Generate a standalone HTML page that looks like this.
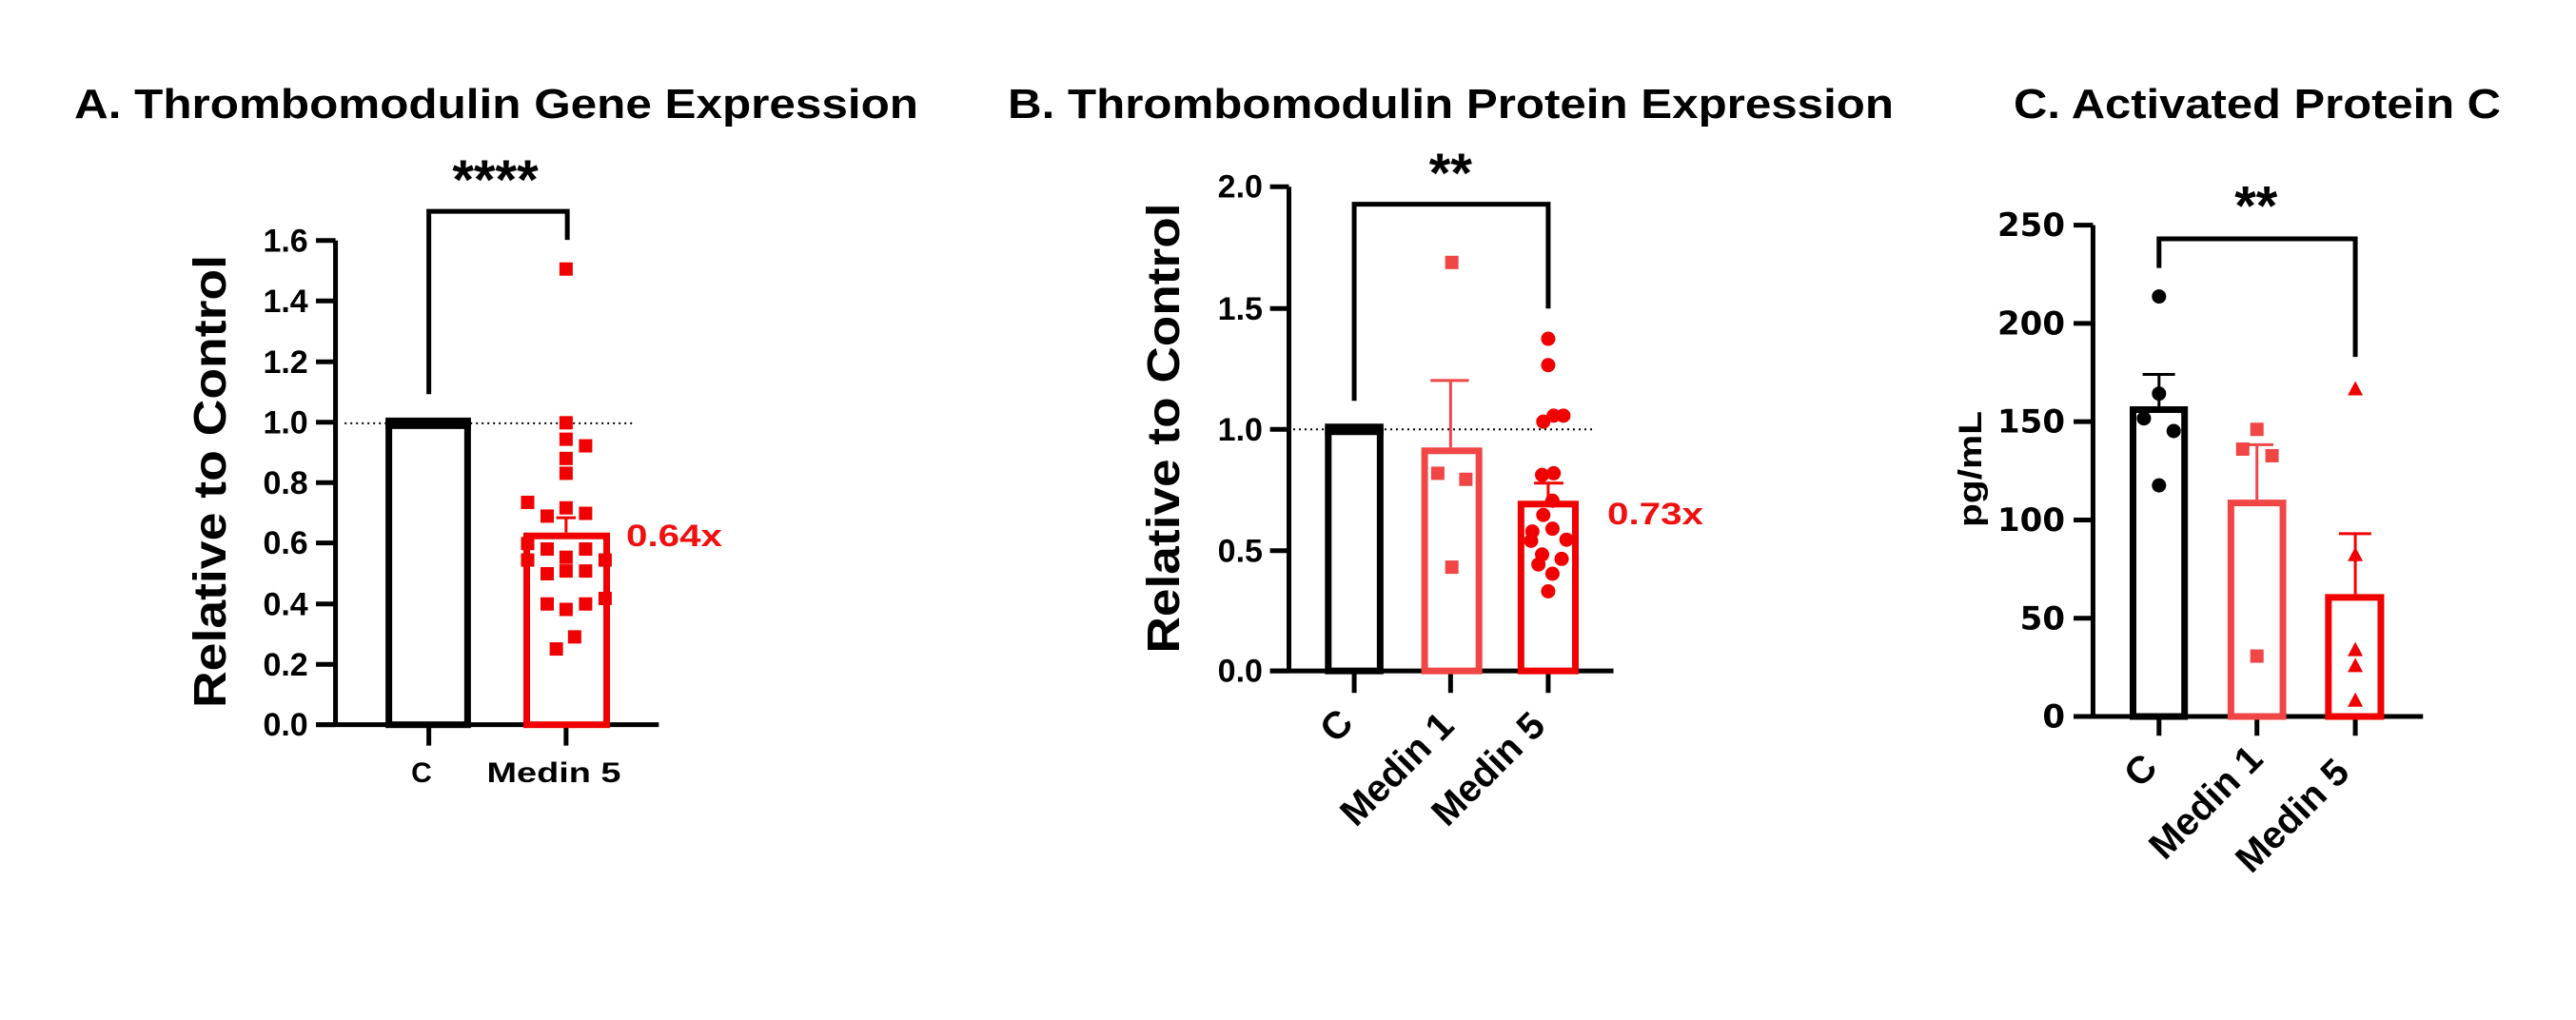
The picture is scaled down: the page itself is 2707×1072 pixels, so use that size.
<!DOCTYPE html>
<html><head><meta charset="utf-8"><style>
html,body{margin:0;padding:0;background:#fff;}
svg{display:block;font-family:"Liberation Sans",Arial,sans-serif;font-weight:bold;}
</style></head><body>
<svg id="s" width="2707" height="1072" viewBox="0 0 2707 1072" xmlns="http://www.w3.org/2000/svg">
<rect width="2707" height="1072" fill="#fff"/>
<text x="78" y="124" font-size="44" textLength="887" lengthAdjust="spacingAndGlyphs">A. Thrombomodulin Gene Expression</text>
<text x="1059" y="124" font-size="44" textLength="931" lengthAdjust="spacingAndGlyphs">B. Thrombomodulin Protein Expression</text>
<text x="2116" y="124" font-size="44" textLength="512" lengthAdjust="spacingAndGlyphs">C. Activated Protein C</text>
<text transform="translate(221,506) rotate(-90)" text-anchor="middle" dy="16" font-size="48" textLength="476" lengthAdjust="spacingAndGlyphs">Relative to Control</text>
<text transform="translate(1223,450) rotate(-90)" text-anchor="middle" dy="16" font-size="48" textLength="473" lengthAdjust="spacingAndGlyphs">Relative to Control</text>
<text transform="translate(2070,493) rotate(-90)" text-anchor="middle" dy="12" font-size="34" textLength="122" lengthAdjust="spacingAndGlyphs">pg/mL</text>
<text x="443" y="822" font-size="30" text-anchor="middle">C</text>
<text x="582" y="822" font-size="30" text-anchor="middle" textLength="141" lengthAdjust="spacingAndGlyphs">Medin 5</text>
<text x="658" y="574" font-size="32" fill="#f01010" textLength="101" lengthAdjust="spacingAndGlyphs">0.64x</text>
<text x="1689" y="551" font-size="32" fill="#f01010" textLength="101" lengthAdjust="spacingAndGlyphs">0.73x</text>
<g font-size="40" text-anchor="end">
<text transform="translate(1424,762) rotate(-45)">C</text>
<text transform="translate(1530,765) rotate(-45)">Medin 1</text>
<text transform="translate(1626,765) rotate(-45)">Medin 5</text>
<text transform="translate(2269,809) rotate(-45)">C</text>
<text transform="translate(2380,800) rotate(-45)">Medin 1</text>
<text transform="translate(2471,814) rotate(-45)">Medin 5</text>
</g>
<g id="g"></g>
</svg>
<script>
var g=document.getElementById('g'),NS='http://www.w3.org/2000/svg';
function el(t,a,txt){var e=document.createElementNS(NS,t);for(var k in a)e.setAttribute(k,a[k]);if(txt)e.textContent=txt;g.appendChild(e);return e;}
var P;function X(x){return P.ox+x/P.sx;}function Y(y){return y/P.sy;}
function L(x1,y1,x2,y2,c,w,d){var a={x1:X(x1),y1:Y(y1),x2:X(x2),y2:Y(y2),stroke:c||'#000','stroke-width':w||5};if(d)a['stroke-dasharray']=d;el('line',a);}
function bar(x1,x2,top,bot,c){el('rect',{x:X(x1)+3.5,y:Y(top)+3.5,width:X(x2)-X(x1)-7,height:Y(bot)-Y(top)-3.5,fill:'#fff',stroke:c,'stroke-width':7});}
function sq(x,y,c){el('rect',{x:X(x)-7,y:Y(y)-7,width:14,height:14,fill:c});}
function ci(x,y,c){el('circle',{cx:X(x),cy:Y(y),r:7.5,fill:c});}
function tr(x,y,c){var cx=X(x),cy=Y(y);el('polygon',{points:(cx-8)+','+(cy+7)+' '+(cx+8)+','+(cy+7)+' '+cx+','+(cy-8),fill:c});}
function T(x,y,s,sz,an,ex){var a={x:X(x),y:Y(y),'font-size':sz,'text-anchor':an||'end'};for(var k in ex||{})a[k]=ex[k];el('text',a,s);}
var R='#f00000',LR='#f04646';
// Panel A
P={ox:0,sx:1.56,sy:1.733};
L(550,438,550,1322);L(518,1320,1080,1320);
[[438,'1.6'],[548,'1.4'],[659,'1.2'],[769,'1.0'],[879,'0.8'],[989,'0.6'],[1100,'0.4'],[1210,'0.2'],[1320,'0.0']].forEach(function(t){L(518,t[0],550,t[0]);T(505,t[0]+20,t[1],34);});
L(703,1320,703,1358);L(928,1320,928,1358);
L(565,771,1040,771,'#000',2,'2 4');
bar(632,772,766,1320,'#000');L(632,771,772,771,'#000',12);
bar(858,1000,970,1320,R);L(928,970,928,943,R,3);L(912,943,944,943,R,3);
[[928,490],[928,770],[928,800],[960,812],[928,835],[928,862],[865,915],[928,925],[960,935],[897,940],[865,990],[897,1000],[960,1000],[865,1020],[928,1015],[992,1020],[897,1045],[928,1040],[960,1040],[897,1100],[992,1090],[928,1110],[960,1100],[942,1160],[912,1182]].forEach(function(p){sq(p[0],p[1],R);});
el('polyline',{points:X(703)+','+Y(718)+' '+X(703)+','+Y(385)+' '+X(930)+','+Y(385)+' '+X(930)+','+Y(437),fill:'none',stroke:'#000','stroke-width':5});
T(812,362,'****',58,'middle');
// Panel B
P={ox:1000,sx:1.56,sy:1.733};
L(553,340,553,1224);L(522,1222,1085,1222);
[[340,'2.0'],[562,'1.5'],[782,'1.0'],[1003,'0.5'],[1222,'0.0']].forEach(function(t){L(522,t[0],553,t[0]);T(510,t[0]+20,t[1],34);});
[660,818,978].forEach(function(x){L(x,1222,x,1262);});
L(560,782,1050,782,'#000',2,'2 4');
bar(612,708,778,1222,'#000');L(612,782,708,782,'#000',12);
bar(770,870,815,1222,LR);L(818,815,818,693,LR,3);L(785,693,848,693,LR,3);
bar(928,1028,912,1222,R);L(978,912,978,880,R,3);L(955,880,1003,880,R,3);
[[820,478],[797,862],[843,873],[820,1033]].forEach(function(p){sq(p[0],p[1],LR);});
[[978,617],[978,665],[970,768],[987,757],[1003,757],[968,865],[987,862],[985,912],[970,938],[952,968],[985,963],[950,985],[1008,983],[968,1010],[1000,1018],[962,1028],[985,1045],[978,1077]].forEach(function(p){ci(p[0],p[1],R);});
el('polyline',{points:X(660)+','+Y(730)+' '+X(660)+','+Y(372)+' '+X(978)+','+Y(372)+' '+X(978)+','+Y(562),fill:'none',stroke:'#000','stroke-width':5});
T(818,350,'**',58,'middle');
// Panel C
P={ox:2000,sx:2.206,sy:1.733};
L(440,410,440,1307);L(395,1305,1205,1305);
[[410,'250'],[589,'200'],[768,'150'],[947,'100'],[1126,'50'],[1305,'0']].forEach(function(t){L(395,t[0],440,t[0]);T(375,t[0]+20,t[1],34,'end',{'font-family':'"DejaVu Sans",sans-serif'});});
[593,820,1048].forEach(function(x){L(x,1305,x,1340);});
bar(525,660,740,1305,'#000');L(593,740,593,682,'#000',3);L(555,682,630,682,'#000',3);
bar(752,888,910,1305,LR);L(820,910,820,810,LR,3);L(782,810,858,810,LR,3);
bar(978,1115,1082,1305,R);L(1048,1082,1048,972,R,3);L(1010,972,1085,972,R,3);
[[593,540],[593,717],[558,762],[627,785],[593,884]].forEach(function(p){ci(p[0],p[1],'#000');});
[[820,782],[787,818],[855,830],[820,1195]].forEach(function(p){sq(p[0],p[1],LR);});
[[1048,708],[1048,1010],[1048,1183],[1048,1212],[1048,1275]].forEach(function(p){tr(p[0],p[1],R);});
el('polyline',{points:X(593)+','+Y(488)+' '+X(593)+','+Y(435)+' '+X(1048)+','+Y(435)+' '+X(1048)+','+Y(650),fill:'none',stroke:'#000','stroke-width':5});
T(818,410,'**',58,'middle');
</script>
</body></html>
